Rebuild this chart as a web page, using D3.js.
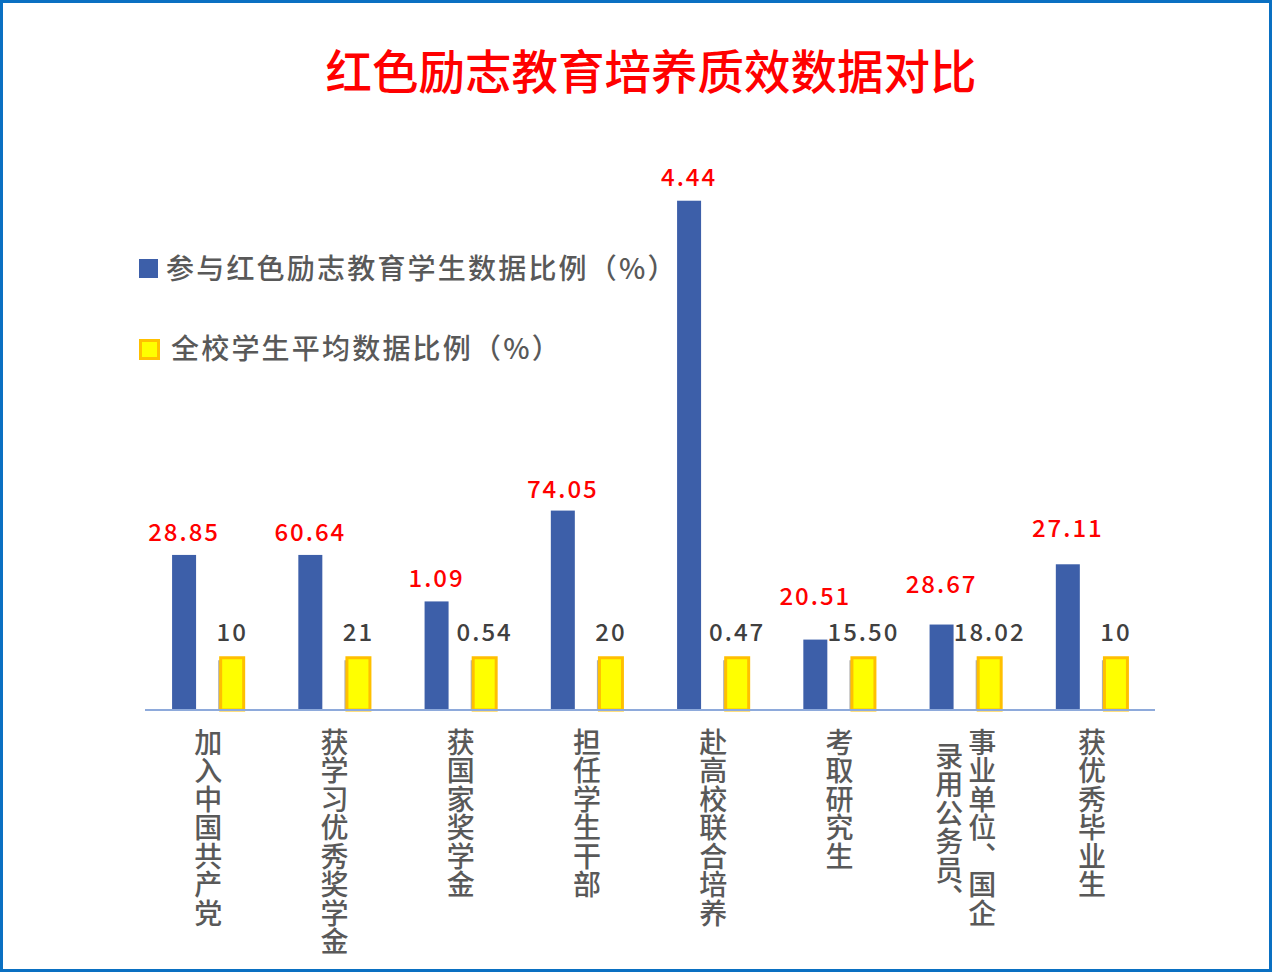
<!DOCTYPE html>
<html>
<head>
<meta charset="utf-8">
<script src="https://d3js.org/d3.v7.min.js"></script>
<style>
  html, body { margin: 0; padding: 0; background: #fff; }
  text { font-family: "Noto Sans CJK SC", "Noto Sans", sans-serif; }
</style>
</head>
<body>
<svg id="chart" width="1273" height="973"></svg>
<script>
// categories (each entry = label lines, drawn vertically, first line on the right)
var categories = ["加入中国共产党", "获学习优秀奖学金", "获国家奖学金", "担任学生干部",
                  "赴高校联合培养", "考取研究生", "事业单位、国企|录用公务员、", "获优秀毕业生"];
var seriesNames = ["参与红色励志教育学生数据比例（%）", "全校学生平均数据比例（%）"];
// plotted heights
var redBars = [28.85, 28.85, 20.2, 37.1, 94.75, 13.1, 15.9, 27.11];
var allBars = [10, 10, 10, 10, 10, 10, 10, 10];
// printed labels
var redLabels = ["28.85", "60.64", "1.09", "74.05", "4.44", "20.51", "28.67", "27.11"];
var allLabels = ["10", "21", "0.54", "20", "0.47", "15.50", "18.02", "10"];

var svg = d3.select("#chart");

// frame
svg.append("rect")
    .attr("x", 1.5).attr("y", 1.5)
    .attr("width", 1269).attr("height", 969)
    .attr("fill", "#fff")
    .attr("stroke", "#0a70c2")
    .attr("stroke-width", 3);

// title
svg.append("text")
    .attr("x", 651).attr("y", 89)
    .attr("text-anchor", "middle")
    .attr("font-size", 46.5)
    .attr("font-weight", 500)
    .attr("fill", "#ff0000")
    .text("红色励志教育培养质效数据对比");

var baseY = 710;
var x = d3.scaleBand().domain(d3.range(categories.length)).range([145, 1155]);
var xs = d3.scalePoint().domain([0, 1]).range([0, x.bandwidth()]).padding(0.8125);
var y = d3.scaleLinear().domain([0, 100]).range([baseY, baseY - 537.5]);

var groups = svg.selectAll(".grp")
    .data(categories)
    .enter().append("g")
    .attr("class", "grp")
    .attr("transform", function(d, i) { return "translate(" + x(i) + ",0)"; });

// blue bars
groups.append("rect")
    .attr("x", function() { return xs(0) - 12; })
    .attr("width", 24)
    .attr("y", function(d, i) { return y(redBars[i]); })
    .attr("height", function(d, i) { return baseY - y(redBars[i]); })
    .attr("fill", "#3d5fa9");

// yellow bars, small shadow on the left
groups.append("rect")
    .attr("x", function() { return xs(1) - 14; })
    .attr("width", 2)
    .attr("y", function(d, i) { return y(allBars[i]) + 4; })
    .attr("height", function(d, i) { return baseY - y(allBars[i]) - 4; })
    .attr("fill", "#7a7a7a")
    .attr("opacity", 0.6);
groups.append("rect")
    .attr("x", function() { return xs(1) - 11.5; })
    .attr("width", 23)
    .attr("y", function(d, i) { return y(allBars[i]) + 1.5; })
    .attr("height", function(d, i) { return baseY - y(allBars[i]) - 1.5; })
    .attr("fill", "#ffff00")
    .attr("stroke", "#ffc000")
    .attr("stroke-width", 3);

// value labels (some red ones lifted by hand to clear the grey ones)
var redLift = [14, 14, 14, 13, 15, 35, 32, 27];
groups.append("text")
    .attr("x", function() { return xs(0); })
    .attr("y", function(d, i) { return y(redBars[i]) - redLift[i]; })
    .attr("text-anchor", "middle")
    .attr("font-size", 24)
    .attr("font-weight", 500)
    .attr("letter-spacing", 2)
    .attr("fill", "#ff0000")
    .text(function(d, i) { return redLabels[i]; });

groups.append("text")
    .attr("x", function() { return xs(1); })
    .attr("y", function(d, i) { return y(allBars[i]) - 15; })
    .attr("text-anchor", "middle")
    .attr("font-size", 24)
    .attr("font-weight", 500)
    .attr("letter-spacing", 2)
    .attr("fill", "#404040")
    .text(function(d, i) { return allLabels[i]; });

// axis line
svg.append("line")
    .attr("x1", 145).attr("x2", 1155)
    .attr("y1", baseY).attr("y2", baseY)
    .attr("stroke", "#8eaadb")
    .attr("stroke-width", 2);

// vertical category labels
var fs = 28;
groups.each(function(d) {
    var lines = d.split("|");
    var maxLen = d3.max(lines, function(l) { return l.length; });
    var g = d3.select(this);
    lines.forEach(function(l, j) {
        var cx = x.bandwidth() / 2 + ((lines.length - 1) / 2 - j) * 33;
        g.append("text")
            .attr("x", cx)
            .attr("y", 728 + (maxLen - l.length) * (fs + 0.5) / 2)
            .attr("font-size", fs)
            .attr("font-weight", 500)
            .attr("letter-spacing", 0.5)
            .attr("fill", "#595959")
            .style("writing-mode", "vertical-rl")
            .text(l);
    });
});

// legend
var legend = svg.selectAll(".legend")
    .data(seriesNames)
    .enter().append("g")
    .attr("class", "legend")
    .attr("transform", function(d, i) { return "translate(139," + (259 + i * 80) + ")"; });

legend.append("rect")
    .attr("x", function(d, i) { return i ? 1.5 : 0; })
    .attr("y", function(d, i) { return i ? 1.5 : 0; })
    .attr("width", function(d, i) { return i ? 18 : 19; })
    .attr("height", function(d, i) { return i ? 18 : 19; })
    .attr("fill", function(d, i) { return i ? "#ffff00" : "#3d5fa9"; })
    .attr("stroke", function(d, i) { return i ? "#ffc000" : "none"; })
    .attr("stroke-width", 3);

legend.append("text")
    .attr("x", function(d, i) { return i ? 32 : 27; })
    .attr("y", 20)
    .attr("font-size", 28)
    .attr("font-weight", 500)
    .attr("letter-spacing", 2.2)
    .attr("fill", "#595959")
    .text(function(d) { return d; });
</script>
</body>
</html>
